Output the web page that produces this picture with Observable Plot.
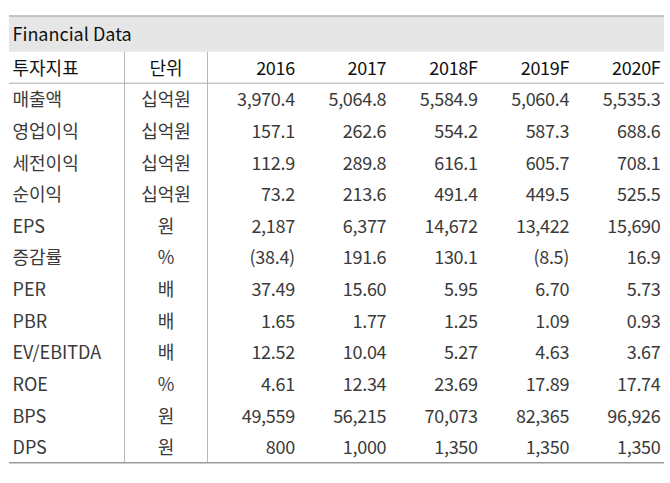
<!DOCTYPE html>
<html>
<head>
<meta charset="utf-8">
<script src="https://cdn.jsdelivr.net/npm/d3@7"></script>
<script src="https://cdn.jsdelivr.net/npm/@observablehq/plot@0.6"></script>
<style>
  html, body { margin: 0; padding: 0; background: #fff; }
  svg { display: block; }
  g[aria-description="numbers"] text { letter-spacing: -0.3px; }
</style>
</head>
<body>
<script>
// ---- data ----
const title = "Financial Data";
const headLabel = "투자지표";
const headUnit = "단위";
const years = ["2016", "2017", "2018F", "2019F", "2020F"];
const indicators = ["매출액", "영업이익", "세전이익", "순이익", "EPS", "증감률", "PER", "PBR", "EV/EBITDA", "ROE", "BPS", "DPS"];
const units = ["십억원", "십억원", "십억원", "십억원", "원", "%", "배", "배", "배", "%", "원", "원"];
const decimals = [1, 1, 1, 1, 0, 1, 2, 2, 2, 2, 0, 0];
const v2016 = [3970.4, 157.1, 112.9, 73.2, 2187, -38.4, 37.49, 1.65, 12.52, 4.61, 49559, 800];
const v2017 = [5064.8, 262.6, 289.8, 213.6, 6377, 191.6, 15.60, 1.77, 10.04, 12.34, 56215, 1000];
const v2018 = [5584.9, 554.2, 616.1, 491.4, 14672, 130.1, 5.95, 1.25, 5.27, 23.69, 70073, 1350];
const v2019 = [5060.4, 587.3, 605.7, 449.5, 13422, -8.5, 6.70, 1.09, 4.63, 17.89, 82365, 1350];
const v2020 = [5535.3, 688.6, 708.1, 525.5, 15690, 16.9, 5.73, 0.93, 3.67, 17.74, 96926, 1350];
const series = [v2016, v2017, v2018, v2019, v2020];

// ---- build tables ----
const nRows = indicators.length;
const fmt = (v, d) => {
  const s = d3.format(`,.${d}f`)(Math.abs(v));
  return v < 0 ? `(${s})` : s;
};
const labelCells = [{row: 1, text: headLabel, head: true}]
  .concat(indicators.map((t, i) => ({row: i + 2, text: t, head: false})));
const unitCells = [{row: 1, text: headUnit, head: true}]
  .concat(units.map((t, i) => ({row: i + 2, text: t, head: false})));
const numCells = [];
years.forEach((y, j) => {
  numCells.push({col: j + 2, row: 1, text: y, head: true});
  series[j].forEach((v, i) => numCells.push({col: j + 2, row: i + 2, text: fmt(v, decimals[i]), head: false}));
});
const nCols = years.length + 2;
const bottom = nRows + 2;
const titleBand = [{x1: 0, x2: nCols, y1: 0, y2: 1}];
const hRules = [
  {y: 0, stroke: "#9a9a9a", w: 1.2},
  {y: 2, stroke: "#aaaaaa", w: 1},
  {y: bottom, stroke: "#9a9a9a", w: 1.5}
];
const vRules = [{x: 1}, {x: 2}];

const font = "'Noto Sans CJK KR', sans-serif";
const w = d => d.head ? 500 : 400;
const c = d => d.head ? "#111" : "#3a3a3a";

const chart = Plot.plot({
  width: 670,
  height: 483,
  marginLeft: 9,
  marginRight: 5,
  marginTop: 15,
  marginBottom: 20,
  style: {fontFamily: font, fontSize: "18px", background: "#fff", color: "#222"},
  x: {type: "linear", domain: [0, 1, 2, nCols], range: [9, 124, 207, 664], axis: null},
  y: {type: "linear", domain: [0, 1, 2, bottom], range: [15.5, 51.7, 82.7, 462.3], axis: null},
  marks: [
    Plot.rect(titleBand, {x1: "x1", x2: "x2", y1: "y1", y2: "y2", fill: "#e6e6e6"}),
    Plot.ruleX(vRules, {x: "x", y1: () => 1, y2: () => bottom, stroke: "#b8b8b8", strokeWidth: 1}),
    Plot.ruleY(hRules, {y: "y", x1: () => 0, x2: () => nCols, stroke: "stroke", strokeWidth: "w"}),
    Plot.text([title], {x: () => 0, y: () => 0.5, text: d => d, textAnchor: "start", dx: 3, dy: 1, fill: "#111", fontWeight: 400, fontSize: 18}),
    Plot.text(labelCells, {x: () => 0, y: d => d.row + 0.5, text: "text", textAnchor: "start", dx: 3, dy: 1.5,
      fill: c, fontWeight: w, fontSize: 18}),
    Plot.text(unitCells, {x: () => 1.5, y: d => d.row + 0.5, text: "text", textAnchor: "middle", dy: 1.5,
      fill: c, fontWeight: w, fontSize: 18}),
    Plot.text(numCells, {x: d => d.col + 1, y: d => d.row + 0.5, text: "text", textAnchor: "end", dx: -4, dy: 1.5,
      fill: c, fontWeight: w, fontSize: 18, ariaDescription: "numbers"})
  ]
});
document.body.appendChild(chart);
</script>
</body>
</html>
